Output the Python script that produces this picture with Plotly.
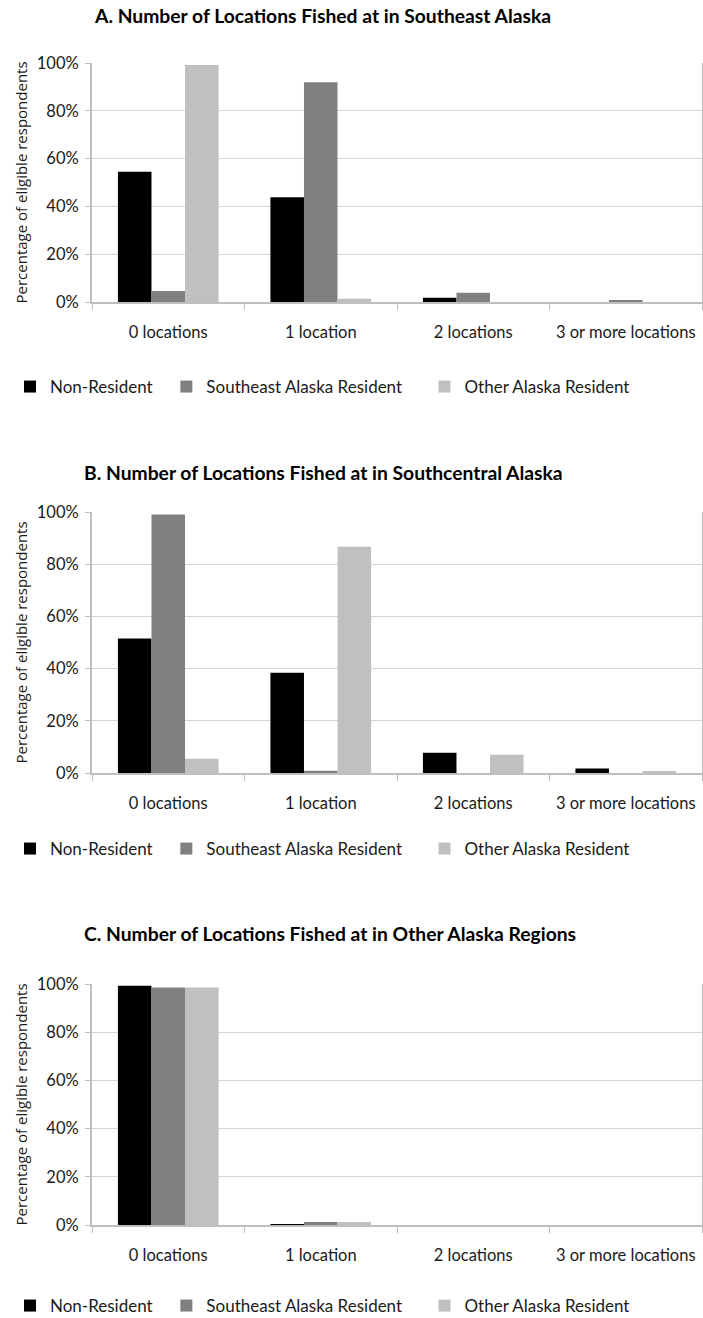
import plotly.graph_objects as go

# ---------------- data ----------------
categories = ["0 locations", "1 location", "2 locations", "3 or more locations"]
series_names = ["Non-Resident", "Southeast Alaska Resident", "Other Alaska Resident"]

a_non_resident = [54.5, 43.8, 1.8, 0.0]
a_southeast = [4.6, 91.9, 3.9, 0.6]
a_other = [99.2, 1.4, 0.0, 0.0]

b_non_resident = [51.5, 38.4, 7.8, 1.7]
b_southeast = [99.0, 0.9, 0.0, 0.0]
b_other = [5.5, 86.7, 7.0, 0.5]

c_non_resident = [99.3, 0.4, 0.0, 0.0]
c_southeast = [98.5, 1.2, 0.0, 0.0]
c_other = [98.5, 1.2, 0.0, 0.0]

titles = [
    "A. Number of Locations Fished at in Southeast Alaska",
    "B. Number of Locations Fished at in Southcentral Alaska",
    "C. Number of Locations Fished at in Other Alaska Regions",
]
y_title = "Percentage of eligible respondents"
y_tick_values = [0, 20, 40, 60, 80, 100]
y_tick_labels = ["0%", "20%", "40%", "60%", "80%", "100%"]

# ---------------- styling ----------------
W, H = 703, 1318
colors = ["#000000", "#808080", "#C0C0C0"]
legend_pad = [2, 4, 0]  # trailing spacing to mimic legend item spacing
FONT = "Lato"
TXT = "#1a1a1a"


def fx(p):
    return p / W


def fy(p):
    return 1 - p / H


# pixel layout of each panel: (title_y, top_100, bottom_0, legend_y, title_x)
panels = [
    (16, 63, 302, 387, 92),
    (473, 512, 773, 849, 82),
    (933, 984, 1225, 1306, 82),
]
data_sets = [
    [a_non_resident, a_southeast, a_other],
    [b_non_resident, b_southeast, b_other],
    [c_non_resident, c_southeast, c_other],
]

fig = go.Figure()
layout = dict(
    width=W,
    height=H,
    autosize=False,
    margin=dict(l=0, r=0, t=0, b=0, autoexpand=False),
    paper_bgcolor="white",
    plot_bgcolor="white",
    barmode="group",
    bargap=0.34,
    bargroupgap=0,
    showlegend=True,
    font=dict(family=FONT, size=17, color=TXT),
    annotations=[],
)

for i, (vals, (ty, ytop, ybot, ly, tx)) in enumerate(zip(data_sets, panels)):
    n = "" if i == 0 else str(i + 1)
    leg = "legend" + n
    for name, v, col, pad in zip(series_names, vals, colors, legend_pad):
        fig.add_trace(go.Bar(
            x=categories, y=v, name=name + "\u00a0" * pad,
            marker=dict(color=col, line=dict(width=0)),
            xaxis="x" + n, yaxis="y" + n, legend=leg,
            hovertemplate="%{x}: %{y}%<extra>" + name + "</extra>",
        ))
    layout["xaxis" + n] = dict(
        domain=[fx(92), fx(702)],
        anchor="y" + n,
        type="category",
        categoryorder="array",
        categoryarray=categories,
        range=[-0.5, 3.5],
        automargin=False,
        showline=True, linecolor="#BFBFBF", linewidth=2,
        ticks="outside", tickson="boundaries", ticklen=6, tickcolor="#BFBFBF", tickwidth=1,
        ticklabelstandoff=14,
        tickangle=0,
        tickfont=dict(family=FONT, size=16.5, color=TXT),
        showgrid=False, zeroline=False, fixedrange=True,
    )
    layout["yaxis" + n] = dict(
        domain=[fy(ybot), fy(ytop)],
        anchor="x" + n,
        range=[0, 100],
        automargin=False,
        tickmode="array",
        tickvals=y_tick_values,
        ticktext=y_tick_labels,
        showline=True, linecolor="#BFBFBF", linewidth=2, mirror=True,
        ticks="outside", ticklen=5, tickcolor="#BFBFBF",
        ticklabelstandoff=3,
        tickfont=dict(family=FONT, size=16.5, color=TXT),
        showgrid=True, gridcolor="#D6D6D6", gridwidth=1,
        zeroline=False, fixedrange=True,
    )
    layout[leg] = dict(
        orientation="h",
        x=fx(10), xanchor="left", xref="container",
        y=fy(ly), yanchor="middle", yref="container",
        font=dict(family=FONT, size=17, color=TXT),
        bgcolor="rgba(0,0,0,0)",
        traceorder="normal",
    )
    layout["annotations"].append(dict(
        text="<b>" + titles[i] + "</b>",
        xref="paper", yref="paper",
        x=fx(tx), y=fy(ty), xanchor="left", yanchor="middle",
        showarrow=False,
        font=dict(family=FONT, size=19.3, color="#000000"),
    ))
    layout["annotations"].append(dict(
        text=y_title,
        xref="paper", yref="paper",
        x=fx(20), y=fy((ytop + ybot) / 2), xanchor="center", yanchor="middle",
        textangle=-90, showarrow=False,
        font=dict(family="Open Sans", size=15, color=TXT),
    ))

fig.update_layout(**layout)
fig.write_html(
    "out.html",
    config={"displayModeBar": False},
    post_script="document.body.style.margin='0';",
)
